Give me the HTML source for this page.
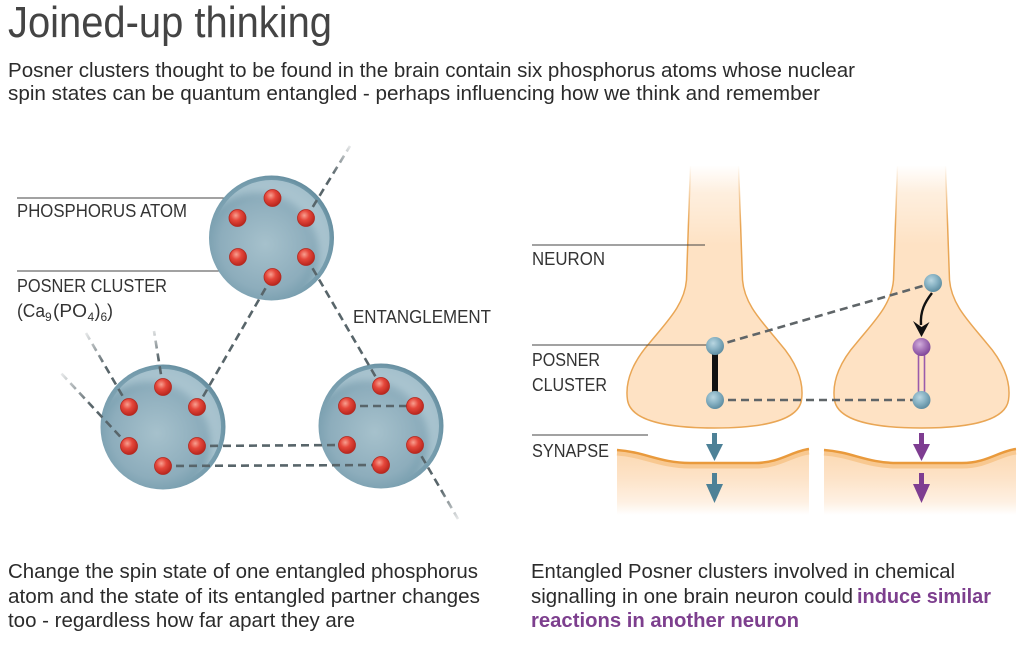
<!DOCTYPE html>
<html>
<head>
<meta charset="utf-8">
<style>
  html,body{margin:0;padding:0;background:#fff;}
  body{width:1024px;height:666px;overflow:hidden;}
  svg{display:block;}
  text{font-family:"Liberation Sans", sans-serif;}
</style>
</head>
<body>
<svg width="1024" height="666" viewBox="0 0 1024 666" xmlns="http://www.w3.org/2000/svg">
  <defs>
    <radialGradient id="sphBase" cx="0.45" cy="0.55" r="0.6">
      <stop offset="0" stop-color="#a6c1cc"/>
      <stop offset="0.6" stop-color="#8dadbc"/>
      <stop offset="0.88" stop-color="#7199aa"/>
      <stop offset="1" stop-color="#5b8395"/>
    </radialGradient>
    <filter id="soft" x="-30%" y="-30%" width="160%" height="160%">
      <feGaussianBlur stdDeviation="4"/>
    </filter>
    <mask id="cresMask" maskUnits="userSpaceOnUse" x="-80" y="-80" width="160" height="160">
      <circle cx="0" cy="0" r="58" fill="#fff"/>
      <circle cx="-14" cy="16" r="61" fill="#000" filter="url(#soft)"/>
    </mask>
    <radialGradient id="redDot" cx="0.4" cy="0.35" r="0.65">
      <stop offset="0" stop-color="#f8a090"/>
      <stop offset="0.45" stop-color="#e5473b"/>
      <stop offset="1" stop-color="#b9261d"/>
    </radialGradient>
    <radialGradient id="blueBall" cx="0.4" cy="0.35" r="0.65">
      <stop offset="0" stop-color="#b9d6e1"/>
      <stop offset="0.5" stop-color="#8ab4c5"/>
      <stop offset="1" stop-color="#5f8ea2"/>
    </radialGradient>
    <radialGradient id="purpBall" cx="0.4" cy="0.35" r="0.65">
      <stop offset="0" stop-color="#d2aedc"/>
      <stop offset="0.5" stop-color="#a877ba"/>
      <stop offset="1" stop-color="#80489a"/>
    </radialGradient>

    <g id="sphere">
      <circle cx="0" cy="0" r="62.5" fill="url(#sphBase)"/>
      <g mask="url(#cresMask)"><circle cx="0" cy="0" r="60" fill="#c6dbe3" opacity="0.6"/></g>
    </g>

    <linearGradient id="neuFill" x1="0" y1="165" x2="0" y2="245" gradientUnits="userSpaceOnUse">
      <stop offset="0" stop-color="#fee4c8" stop-opacity="0"/>
      <stop offset="0.35" stop-color="#fee4c8" stop-opacity="0.6"/>
      <stop offset="1" stop-color="#fee2c4" stop-opacity="1"/>
    </linearGradient>
    <linearGradient id="neuStroke" x1="0" y1="165" x2="0" y2="225" gradientUnits="userSpaceOnUse">
      <stop offset="0" stop-color="#e9a655" stop-opacity="0"/>
      <stop offset="1" stop-color="#e9a655" stop-opacity="1"/>
    </linearGradient>
    <linearGradient id="synFill" x1="0" y1="448" x2="0" y2="515" gradientUnits="userSpaceOnUse">
      <stop offset="0" stop-color="#fcd8b0"/>
      <stop offset="0.45" stop-color="#fde3c8"/>
      <stop offset="0.8" stop-color="#fef0e2"/>
      <stop offset="1" stop-color="#ffffff"/>
    </linearGradient>

    <linearGradient id="f1" x1="306" y1="218" x2="350" y2="146" gradientUnits="userSpaceOnUse">
      <stop offset="0.6" stop-color="#58656a" stop-opacity="1"/>
      <stop offset="1" stop-color="#58656a" stop-opacity="0.15"/>
    </linearGradient>
    <linearGradient id="f7" x1="415" y1="445" x2="458" y2="519" gradientUnits="userSpaceOnUse">
      <stop offset="0.6" stop-color="#58656a" stop-opacity="1"/>
      <stop offset="1" stop-color="#58656a" stop-opacity="0.15"/>
    </linearGradient>
    <linearGradient id="f8" x1="163" y1="387" x2="154" y2="331" gradientUnits="userSpaceOnUse">
      <stop offset="0.5" stop-color="#58656a" stop-opacity="1"/>
      <stop offset="1" stop-color="#58656a" stop-opacity="0.2"/>
    </linearGradient>
    <linearGradient id="f9" x1="129" y1="407" x2="86" y2="333" gradientUnits="userSpaceOnUse">
      <stop offset="0.55" stop-color="#58656a" stop-opacity="1"/>
      <stop offset="1" stop-color="#58656a" stop-opacity="0.15"/>
    </linearGradient>
    <linearGradient id="f10" x1="129" y1="446" x2="60" y2="372" gradientUnits="userSpaceOnUse">
      <stop offset="0.55" stop-color="#58656a" stop-opacity="1"/>
      <stop offset="1" stop-color="#58656a" stop-opacity="0.1"/>
    </linearGradient>
  </defs>

  <!-- Title & subtitle -->
  <text x="8" y="37" font-size="44" fill="#444" textLength="324" lengthAdjust="spacingAndGlyphs">Joined-up thinking</text>
  <text x="8" y="77" font-size="20" fill="#2b2b2b" textLength="847" lengthAdjust="spacingAndGlyphs">Posner clusters thought to be found in the brain contain six phosphorus atoms whose nuclear</text>
  <text x="8" y="100" font-size="20" fill="#2b2b2b" textLength="812" lengthAdjust="spacingAndGlyphs">spin states can be quantum entangled - perhaps influencing how we think and remember</text>

  <!-- ============ LEFT PANEL ============ -->
  <line x1="17" y1="198" x2="266" y2="198" stroke="#444" stroke-width="1"/>
  <line x1="17" y1="271" x2="226" y2="271" stroke="#444" stroke-width="1"/>

  <use href="#sphere" transform="translate(271.5,238)"/>
  <use href="#sphere" transform="translate(163,427)"/>
  <use href="#sphere" transform="translate(381,426)"/>

  <g fill="none" stroke-width="2.6" stroke-dasharray="8 5">
    <line x1="306" y1="218" x2="350" y2="146" stroke="url(#f1)"/>
    <line x1="272" y1="277" x2="197" y2="407" stroke="#58656a"/>
    <line x1="306" y1="257" x2="381" y2="386" stroke="#58656a"/>
    <line x1="197" y1="446" x2="347" y2="445" stroke="#58656a"/>
    <line x1="163" y1="466" x2="381" y2="465" stroke="#58656a"/>
    <line x1="347" y1="406" x2="415" y2="406" stroke="#58656a"/>
    <line x1="415" y1="445" x2="458" y2="519" stroke="url(#f7)"/>
    <line x1="163" y1="387" x2="154" y2="331" stroke="url(#f8)"/>
    <line x1="129" y1="407" x2="86" y2="333" stroke="url(#f9)"/>
    <line x1="129" y1="446" x2="60" y2="372" stroke="url(#f10)"/>
  </g>

  <g fill="url(#redDot)" stroke="#b3281f" stroke-width="0.8">
    <circle cx="272.5" cy="198" r="8.5"/>
    <circle cx="237.5" cy="218" r="8.5"/>
    <circle cx="306" cy="218" r="8.5"/>
    <circle cx="238" cy="257" r="8.5"/>
    <circle cx="306" cy="257" r="8.5"/>
    <circle cx="272.5" cy="277" r="8.5"/>

    <circle cx="163" cy="387" r="8.5"/>
    <circle cx="129" cy="407" r="8.5"/>
    <circle cx="197" cy="407" r="8.5"/>
    <circle cx="129" cy="446" r="8.5"/>
    <circle cx="197" cy="446" r="8.5"/>
    <circle cx="163" cy="466" r="8.5"/>

    <circle cx="381" cy="386" r="8.5"/>
    <circle cx="347" cy="406" r="8.5"/>
    <circle cx="415" cy="406" r="8.5"/>
    <circle cx="347" cy="445" r="8.5"/>
    <circle cx="415" cy="445" r="8.5"/>
    <circle cx="381" cy="465" r="8.5"/>
  </g>

  <g fill="#333" font-size="18">
    <text x="17" y="217" textLength="170" lengthAdjust="spacingAndGlyphs">PHOSPHORUS ATOM</text>
    <text x="17" y="292" textLength="150" lengthAdjust="spacingAndGlyphs">POSNER CLUSTER</text>
    <text x="17" y="317" textLength="28" lengthAdjust="spacingAndGlyphs">(Ca</text>
    <text x="45" y="321" font-size="12">9</text>
    <text x="53" y="317" textLength="34" lengthAdjust="spacingAndGlyphs">(PO</text>
    <text x="87.5" y="321" font-size="12">4</text>
    <text x="94.5" y="317">)</text>
    <text x="100.5" y="321" font-size="12">6</text>
    <text x="107" y="317">)</text>
    <text x="353" y="323" textLength="138" lengthAdjust="spacingAndGlyphs">ENTANGLEMENT</text>
  </g>

  <!-- ============ RIGHT PANEL ============ -->
  <g fill="url(#neuFill)" stroke="url(#neuStroke)" stroke-width="1.5">
    <path transform="translate(714.5,0)" d="M-24,165 L-28,280 C-30,305 -48,322 -65,343 C-80,360 -90,380 -87,400 C-84,420 -50,428 0,428 C50,428 84,420 87,400 C90,380 80,360 65,343 C48,322 30,305 28,280 L24,165 Z"/>
    <path transform="translate(921.5,0)" d="M-24,165 L-28,280 C-30,305 -48,322 -65,343 C-80,360 -90,380 -87,400 C-84,420 -50,428 0,428 C50,428 84,420 87,400 C90,380 80,360 65,343 C48,322 30,305 28,280 L24,165 Z"/>
  </g>
  <rect x="600" y="150" width="424" height="16" fill="#fff"/>

  <g id="synL">
    <path d="M617,450 C645,452 660,463 690,463 L755,463 C780,463 792,451 809,449 L809,516 L617,516 Z" fill="url(#synFill)"/>
    <path d="M617,453 C645,455 660,466 690,466 L755,466 C780,466 792,454 809,452" fill="none" stroke="#f8c890" stroke-width="5"/>
    <path d="M617,450 C645,452 660,463 690,463 L755,463 C780,463 792,451 809,449" fill="none" stroke="#e99a3c" stroke-width="2.5"/>
  </g>
  <use href="#synL" transform="translate(207,0)"/>

  <g stroke="#444" stroke-width="1">
    <line x1="532" y1="245" x2="705" y2="245"/>
    <line x1="532" y1="345" x2="707" y2="345"/>
    <line x1="532" y1="435" x2="648" y2="435"/>
  </g>

  <g stroke="#5f6568" stroke-width="2.6" stroke-dasharray="8 5" fill="none">
    <line x1="715" y1="346" x2="933" y2="283"/>
    <line x1="715" y1="400" x2="921" y2="400"/>
  </g>

  <line x1="715" y1="346" x2="715" y2="400" stroke="#111" stroke-width="6"/>
  <line x1="918.5" y1="347" x2="918.5" y2="400" stroke="#9b5bab" stroke-width="1.6"/>
  <line x1="924.5" y1="347" x2="924.5" y2="400" stroke="#9b5bab" stroke-width="1.6"/>

  <path d="M932,293 C925,302 920,311 921,325" fill="none" stroke="#111" stroke-width="2.4"/>
  <path d="M913,321 L921.5,337 L929.5,322 L921.5,327 Z" fill="#111"/>

  <circle cx="715" cy="346" r="9" fill="url(#blueBall)"/>
  <circle cx="715" cy="400" r="9" fill="url(#blueBall)"/>
  <circle cx="933" cy="283" r="9" fill="url(#blueBall)"/>
  <circle cx="921.5" cy="347" r="9" fill="url(#purpBall)"/>
  <circle cx="921.5" cy="400" r="9" fill="url(#blueBall)"/>

  <g fill="#4d8197">
    <path d="M712,433 L717,433 L717,444 L723,444 L714.5,461 L706,444 L712,444 Z"/>
    <path d="M712,473 L717,473 L717,484 L723,484 L714.5,503 L706,484 L712,484 Z"/>
  </g>
  <g fill="#7e3d91">
    <path d="M919,433 L924,433 L924,444 L930,444 L921.5,461 L913,444 L919,444 Z"/>
    <path d="M919,473 L924,473 L924,484 L930,484 L921.5,503 L913,484 L919,484 Z"/>
  </g>

  <g fill="#333" font-size="18">
    <text x="532" y="265" textLength="73" lengthAdjust="spacingAndGlyphs">NEURON</text>
    <text x="532" y="366" textLength="68" lengthAdjust="spacingAndGlyphs">POSNER</text>
    <text x="532" y="391" textLength="75" lengthAdjust="spacingAndGlyphs">CLUSTER</text>
    <text x="532" y="457" textLength="77" lengthAdjust="spacingAndGlyphs">SYNAPSE</text>
  </g>

  <g font-size="20" fill="#2b2b2b">
    <text x="8" y="578" textLength="470" lengthAdjust="spacingAndGlyphs">Change the spin state of one entangled phosphorus</text>
    <text x="8" y="603" textLength="472" lengthAdjust="spacingAndGlyphs">atom and the state of its entangled partner changes</text>
    <text x="8" y="627" textLength="347" lengthAdjust="spacingAndGlyphs">too - regardless how far apart they are</text>

    <text x="531" y="578" textLength="424" lengthAdjust="spacingAndGlyphs">Entangled Posner clusters involved in chemical</text>
    <text x="531" y="603" textLength="322" lengthAdjust="spacingAndGlyphs">signalling in one brain neuron could</text>
    <text x="857" y="603" textLength="134" lengthAdjust="spacingAndGlyphs" fill="#7d3f8e" font-weight="bold">induce similar</text>
    <text x="531" y="627" textLength="268" lengthAdjust="spacingAndGlyphs" fill="#7d3f8e" font-weight="bold">reactions in another neuron</text>
  </g>
</svg>
</body>
</html>
